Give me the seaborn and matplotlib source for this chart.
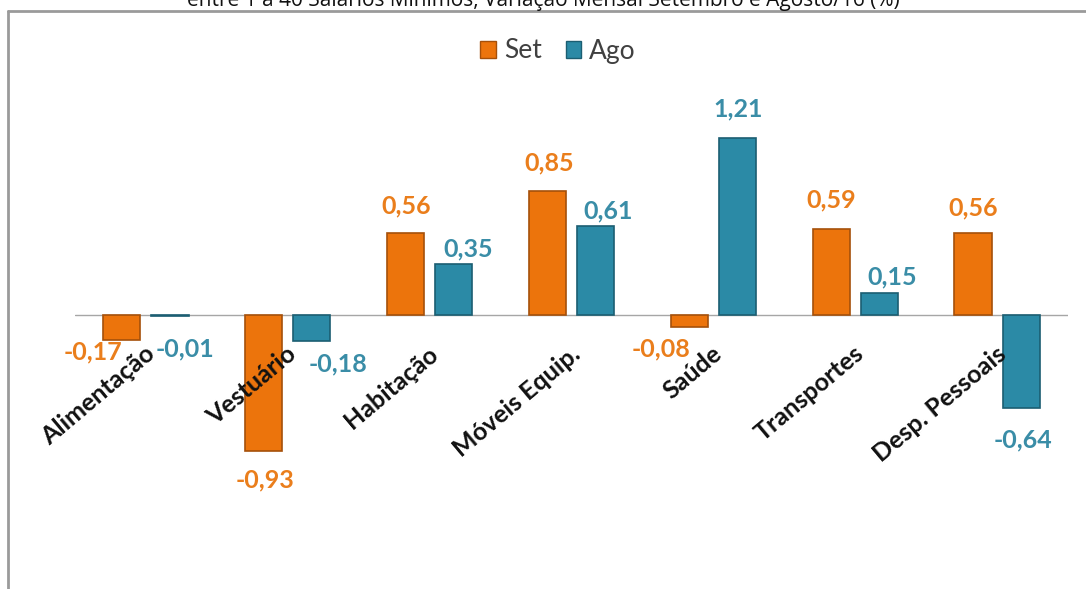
import matplotlib
matplotlib.use("Agg")
import matplotlib.pyplot as plt
from matplotlib.patches import Patch
from matplotlib.lines import Line2D
import seaborn as sns
import pandas as pd

# Data: monthly variation (%) by expense group
categorias = ["Alimentação", "Vestuário", "Habitação", "Móveis Equip.",
              "Saúde", "Transportes", "Desp. Pessoais"]
setembro = [-0.17, -0.93, 0.56, 0.85, -0.08, 0.59, 0.56]
agosto = [-0.01, -0.18, 0.35, 0.61, 1.21, 0.15, -0.64]
series = ["Set", "Ago"]
titulo = "entre 1 a 40 Salários Mínimos, Variação Mensal Setembro e Agosto/16 (%)"

df = pd.DataFrame({
    "categoria": categorias * 2,
    "serie": [series[0]] * len(categorias) + [series[1]] * len(categorias),
    "valor": setembro + agosto,
})

cor_barra = {"Set": "#EC740C", "Ago": "#2B8AA6"}
cor_borda = {"Set": "#A5500A", "Ago": "#1B5E72"}
cor_texto = {"Set": "#EA7E1C", "Ago": "#3A8DA7"}

sns.set_theme(style="white")
plt.rcParams["font.family"] = ["Lato", "DejaVu Sans"]

W, H = 1086, 589
fig = plt.figure(figsize=(W / 100, H / 100), dpi=100)
ax = fig.add_axes([75 / W, 1 - 550 / H, 993 / W, 470 / H])

sns.barplot(data=df, x="categoria", y="valor", hue="serie",
            hue_order=series, order=categorias,
            palette=cor_barra, saturation=1, width=0.68, gap=0.23,
            linewidth=1.2, legend=False, ax=ax, zorder=3)

for cont, s in zip(ax.containers, series):
    for p in cont:
        p.set_edgecolor(cor_borda[s])

ax.set_xlim(-0.5, len(categorias) - 0.5)
ax.set_ylim(-1.61, 1.61)
ax.axhline(0, color="#a6a6a6", lw=1.0, zorder=2)
for sp in ax.spines.values():
    sp.set_visible(False)
ax.set_xticks([])
ax.set_yticks([])
ax.set_xlabel("")
ax.set_ylabel("")

# Value labels: pixel offsets from the bar end (dx, dy)
desloc = {
    "Set": [(-29, -12), (1, -29), (1, 27), (2, 28), (-28, -22), (0, 29), (0, 25)],
    "Ago": [(15, -32), (26, -23), (14, 15), (13, 15), (1, 29), (13, 16), (2, -32)],
}
for cont, s, vals in zip(ax.containers, series, [setembro, agosto]):
    for p, v, (dx, dy) in zip(cont, vals, desloc[s]):
        x = p.get_x() + p.get_width() / 2
        ax.annotate(f"{v:.2f}".replace(".", ","), xy=(x, v),
                    xytext=(dx, dy), textcoords="offset pixels",
                    ha="center", va="center", fontsize=18,
                    fontweight="bold", color=cor_texto[s], zorder=4)

# Rotated category labels below the zero line
for i, c in enumerate(categorias):
    ax.text(i + 0.04, -0.245, c, rotation=40, rotation_mode="anchor",
            ha="right", va="center", fontsize=18, fontweight="bold",
            color="#111111", zorder=4)

handles = [Patch(facecolor=cor_barra[s], edgecolor=cor_borda[s], label=s)
           for s in series]
fig.legend(handles=handles, loc="center", bbox_to_anchor=(558 / W, 1 - 51 / H),
           ncol=2, frameon=False, fontsize=19, handlelength=0.6,
           handleheight=0.6, handletextpad=0.3, columnspacing=0.9,
           labelcolor="#404040")

# Outer frame (top and left edges)
fig.add_artist(Line2D([8 / W, 1], [1 - 11 / H, 1 - 11 / H],
                      color="#9a9a9a", lw=2, transform=fig.transFigure))
fig.add_artist(Line2D([8 / W, 8 / W], [0, 1 - 11 / H],
                      color="#9a9a9a", lw=2, transform=fig.transFigure))

fig.text(543 / W, 1 - 6 / H, titulo, ha="center", va="baseline",
         fontsize=15, color="#111111", family=["Open Sans", "DejaVu Sans"])

fig.savefig("out.png", dpi=100, facecolor="white")
